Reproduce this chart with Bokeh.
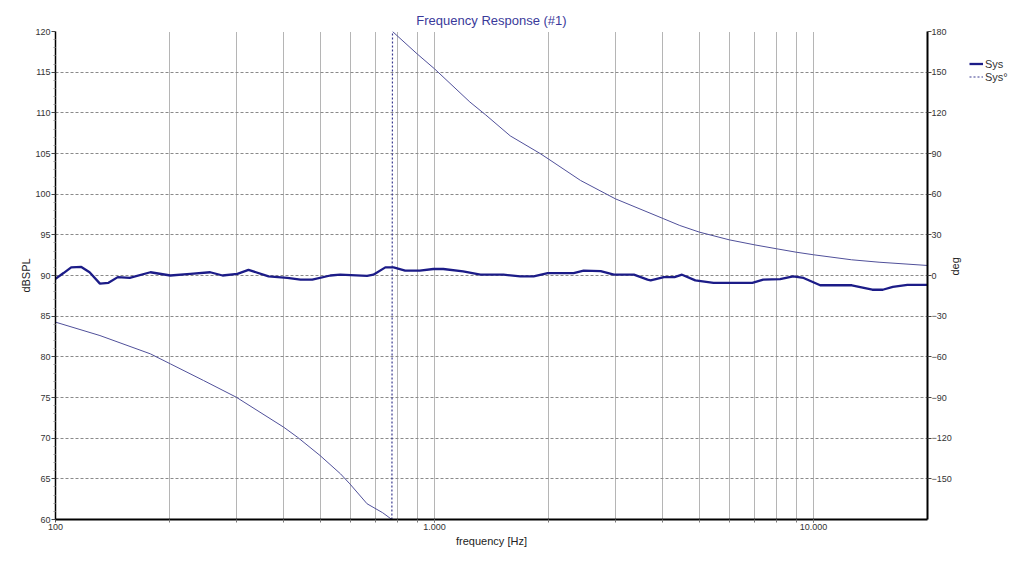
import math
from bokeh.plotting import figure
from bokeh.layouts import row
from bokeh.models import Range1d, LinearAxis, FixedTicker, Legend, LegendItem
from bokeh.embed import file_html
from bokeh.resources import INLINE

# ---- data ----
mag_freq = [100, 105, 110, 117, 123, 131, 138, 146, 157, 178, 201, 227, 256, 276, 302, 323,
            365, 409, 443, 476, 531, 564, 664, 690, 742, 780, 837, 915, 993, 1055, 1190,
            1322, 1520, 1685, 1827, 1990, 2330, 2475, 2745, 2975, 3360, 3650, 3720, 4030,
            4300, 4500, 4880, 5450, 6900, 7370, 8170, 8840, 9420, 10420, 12630, 14300,
            15240, 16200, 17700, 20000]
mag_db = [89.6, 90.3, 91.0, 91.05, 90.4, 89.0, 89.1, 89.8, 89.7, 90.4, 90.0, 90.2, 90.4, 90.0,
          90.2, 90.7, 89.9, 89.7, 89.5, 89.5, 90.0, 90.1, 89.96, 90.1, 91.0, 91.0, 90.6, 90.6,
          90.8, 90.8, 90.5, 90.1, 90.1, 89.9, 89.9, 90.3, 90.3, 90.6, 90.55, 90.1, 90.1, 89.5,
          89.4, 89.8, 89.8, 90.1, 89.4, 89.1, 89.1, 89.5, 89.55, 89.9, 89.7, 88.8, 88.8, 88.25,
          88.25, 88.6, 88.85, 88.85]

phase_freq = [100, 131, 178, 201, 246, 300, 400, 435, 499, 565, 598, 664, 730, 772,
              775, 900, 1000, 1240, 1365, 1585, 1900, 1995, 2430, 3000, 4030, 4440, 5000,
              6000, 7000, 8000, 9000, 10000, 12600, 14900, 20000]
phase_deg = [-34.4, -44.3, -57.8, -65.2, -77.5, -89.8, -111.9, -119.3, -132.8, -146.3, -153.7,
             -168.4, -175.0, -180.0,
             180.0, 163.5, 152.5, 128.0, 118.5, 103.0, 90.0, 86.1, 70.1, 56.6, 41.8, 36.9, 32.0,
             26.3, 22.6, 19.7, 17.2, 15.3, 11.6, 9.8, 7.4]

series_names = ["Sys", "Sys°"]
x_major = [100, 1000, 10000]
x_labels = ["100", "1.000", "10.000"]
x_grid = [200, 300, 400, 500, 600, 700, 800, 900, 1000,
          2000, 3000, 4000, 5000, 6000, 7000, 8000, 9000, 10000]
db_ticks = [60, 65, 70, 75, 80, 85, 90, 95, 100, 105, 110, 115, 120]
db_minor = [v for v in range(60, 121) if v % 5 != 0]
deg_ticks = [-150, -120, -90, -60, -30, 0, 30, 60, 90, 120, 150, 180]

FONT = "Liberation Sans"
MAG_COLOR = "#1c1c88"
PHASE_COLOR = "#50509a"
WRAP_COLOR = "#3a3a90"

p = figure(width=969, height=564, x_axis_type="log",
           x_range=Range1d(100, 20000), y_range=Range1d(60, 120),
           output_backend="svg", toolbar_location=None,
           min_border_left=55, min_border_right=42, min_border_top=31, min_border_bottom=45)
p.extra_y_ranges = {"deg": Range1d(-180, 180)}
p.outline_line_color = None
p.background_fill_color = "white"
p.border_fill_color = "white"

# title
p.title.text = "Frequency Response (#1)"
p.title.align = "center"
p.title.text_color = "#3a3a9a"
p.title.text_font = FONT
p.title.text_font_size = "13px"
p.title.text_font_style = "normal"
p.title.standoff = 7

# x axis
xa = p.xaxis[0]
xa.ticker = FixedTicker(ticks=x_major, minor_ticks=x_grid)
xa.major_label_overrides = {v: s for v, s in zip(x_major, x_labels)}
xa.axis_label = "frequency [Hz]"
xa.axis_label_text_font = FONT
xa.axis_label_text_font_style = "normal"
xa.axis_label_text_font_size = "11px"
xa.axis_label_text_color = "#222222"
xa.axis_label_standoff = 2
xa.major_label_text_font = FONT
xa.major_label_text_font_size = "9px"
xa.major_label_text_color = "#333333"
xa.major_label_standoff = 1
xa.axis_line_color = "black"
xa.axis_line_width = 2
xa.major_tick_out = 3
xa.major_tick_in = 0
xa.minor_tick_out = 3
xa.minor_tick_in = 0
xa.major_tick_line_color = "#555555"
xa.minor_tick_line_color = "#777777"

# left axis
ya = p.yaxis[0]
ya.ticker = FixedTicker(ticks=db_ticks, minor_ticks=db_minor)
ya.axis_label = "dBSPL"
ya.axis_label_text_font = FONT
ya.axis_label_text_font_style = "normal"
ya.axis_label_text_font_size = "11px"
ya.axis_label_text_color = "#222222"
ya.axis_label_standoff = 0
ya.major_label_text_font = FONT
ya.major_label_text_font_size = "9px"
ya.major_label_text_color = "#333333"
ya.major_label_standoff = 1
ya.axis_line_color = "black"
ya.axis_line_width = 1.5
ya.major_tick_out = 4
ya.major_tick_in = 0
ya.minor_tick_out = 2
ya.minor_tick_in = 0
ya.major_tick_line_color = "#444444"
ya.minor_tick_line_color = "#999999"

# right axis
ra = LinearAxis(y_range_name="deg", ticker=FixedTicker(ticks=deg_ticks))
ra.axis_label = "deg"
ra.axis_label_orientation = math.pi / 2
ra.axis_label_text_font = FONT
ra.axis_label_text_font_style = "normal"
ra.axis_label_text_font_size = "11px"
ra.axis_label_text_color = "#222222"
ra.axis_label_standoff = 0
ra.major_label_text_font = FONT
ra.major_label_text_font_size = "9px"
ra.major_label_text_color = "#333333"
ra.major_label_standoff = 0
ra.axis_line_color = "black"
ra.axis_line_width = 2
ra.major_tick_out = 4
ra.major_tick_in = 0
ra.minor_tick_line_color = None
ra.major_tick_line_color = "#444444"
p.add_layout(ra, "right")

# grids
p.ygrid.grid_line_color = "#8a8a8a"
p.ygrid.grid_line_dash = "3 2"
p.ygrid.grid_line_width = 1
p.xgrid.ticker = FixedTicker(ticks=x_grid)
p.xgrid.grid_line_color = "#6a6a6a"
p.xgrid.grid_line_dash = "1 1"
p.xgrid.grid_line_width = 1

# phase (wrapped) -> split at wrap
wrap = next(i for i in range(len(phase_deg) - 1) if phase_deg[i + 1] - phase_deg[i] > 180)
p.line(phase_freq[:wrap + 1], phase_deg[:wrap + 1], y_range_name="deg",
       line_color=PHASE_COLOR, line_width=1)
p.line(phase_freq[wrap + 1:], phase_deg[wrap + 1:], y_range_name="deg",
       line_color=PHASE_COLOR, line_width=1)
p.line(phase_freq[wrap:wrap + 2], phase_deg[wrap:wrap + 2], y_range_name="deg",
       line_color=WRAP_COLOR, line_width=1.2, line_dash="2 2")

# magnitude
p.line(mag_freq, mag_db, line_color=MAG_COLOR, line_width=2.3)

# ---- legend panel (outside the plot frame, as in the reference) ----
lp = figure(width=55, height=564, output_backend="svg", toolbar_location=None,
            x_axis_type=None, y_axis_type=None, min_border=0,
            x_range=Range1d(0, 1), y_range=Range1d(0, 1))
lp.outline_line_color = None
lp.grid.visible = False
lp.background_fill_color = "white"
lp.border_fill_color = "white"
# legend key proxies (kept outside the visible range of this small panel)
key_mag = lp.line([-2, -1], [-2, -2], line_color=MAG_COLOR, line_width=2.3)
key_phase = lp.line([-2, -1], [-3, -3], line_color=WRAP_COLOR, line_width=1.2, line_dash="2 2")
legend = Legend(items=[LegendItem(label=series_names[0], renderers=[key_mag]),
                       LegendItem(label=series_names[1], renderers=[key_phase])],
                location=(0, 436), orientation="vertical")
legend.padding = 0
legend.margin = 0
legend.spacing = 0
legend.label_height = 13
legend.glyph_height = 13
legend.glyph_width = 14
legend.label_standoff = 2
legend.label_text_font = FONT
legend.label_text_font_size = "11px"
legend.label_text_color = "#333333"
legend.background_fill_color = None
legend.border_line_color = None
lp.add_layout(legend, "center")

layout = row(p, lp)
open("out.html", "w").write(file_html(layout, INLINE))
